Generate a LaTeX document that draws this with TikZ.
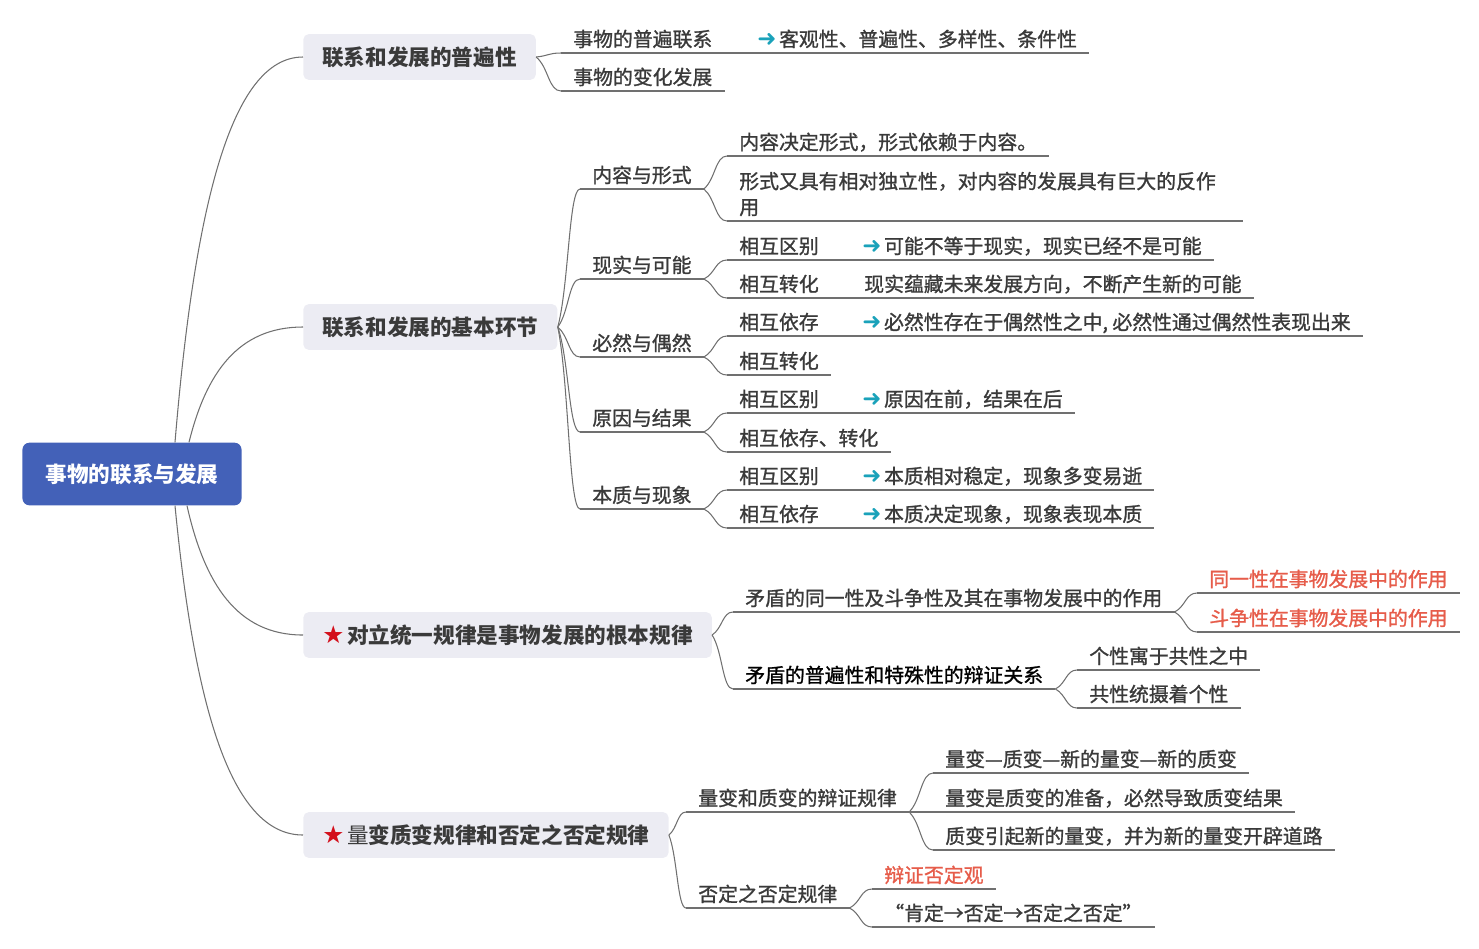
\documentclass[tikz,border=0pt]{standalone}
\usepackage{fontspec}
\setmainfont{Noto Sans CJK SC}
\newfontfamily\leaffont{Noto Sans CJK SC}[FakeBold=1.2]
\newfontfamily\symfont{DejaVu Sans}
\usetikzlibrary{calc}

\definecolor{rootblue}{HTML}{4361B8}
\definecolor{topicgray}{HTML}{ECECF3}
\definecolor{inkgray}{HTML}{3A3A3A}
\definecolor{linegray}{HTML}{707070}
\definecolor{arrowteal}{HTML}{1AA2BA}
\definecolor{starred}{HTML}{D30F1B}
\definecolor{notered}{HTML}{E65C4A}

\newcommand{\goarrow}{{\symfont\fontsize{13}{13}\selectfont\color{arrowteal}➜}\hspace{1.5pt}}
\newcommand{\redstar}{{\symfont\fontsize{14}{14}\selectfont\color{starred}★}\hspace{1.5pt}}

\begin{document}
\begin{tikzpicture}[x=0.02cm,y=-0.02cm]
    \tikzset{
        wire/.style={draw=linegray, line width=0.6pt},
        link/.style={wire, to path={let \p1=(\tikztostart), \p2=(\tikztotarget) in
            .. controls ({0.5*\x1+0.5*\x2},{0.7*\y1+0.3*\y2}) and ({0.5*\x1+0.5*\x2},\y2) .. (\tikztotarget)}},
        trunk/.style={wire, to path={let \p1=(\tikztostart), \p2=(\tikztotarget) in
            .. controls ({0.85*\x1+0.15*\x2},{0.4*\y1+0.6*\y2}) and ({0.57*\x1+0.43*\x2},\y2) .. (\tikztotarget)}},
        root/.style={
            fill=rootblue,
            rounded corners=4pt,
            minimum width=124.7pt,
            minimum height=35.7pt,
            text=white,
            font=\bfseries\fontsize{12.3}{15}\selectfont,
            text height=9.4pt, text depth=0pt
        },
        topic/.style={
            fill=topicgray,
            rounded corners=3pt,
            anchor=west,
            minimum height=26pt,
            inner xsep=10.8pt,
            text=inkgray,
            font=\bfseries\fontsize{12.3}{15}\selectfont,
            text height=9.4pt, text depth=0pt
        },
        leaf/.style={
            anchor=south west,
            inner xsep=6.8pt, inner ysep=0pt,
            text=inkgray,
            font=\leaffont\fontsize{11.3}{14.7}\selectfont,
            text height=9.5pt, text depth=3.5pt
        },
        note/.style={leaf, text=notered}
    }
    \useasboundingbox (0,0) rectangle (1479,948);

    % centre and main topics
    \node[root] (root) at (132,474) {事物的联系与发展};
    \node[topic] (t1) at (303,57) {联系和发展的普遍性};
    \node[topic] (t2) at (303,327) {联系和发展的基本环节};
    \node[topic] (t3) at (303,635) {\redstar 对立统一规律是事物发展的根本规律};
    \node[topic] (t4) at (303,835) {\redstar{\mdseries 量}变质变规律和否定之否定规律};

    \coordinate (rt1) at ($(root.north)+(43,0)$);
    \coordinate (rt2) at ($(root.north)+(57,0)$);
    \coordinate (rb3) at ($(root.south)+(55,0)$);
    \coordinate (rb4) at ($(root.south)+(43,0)$);

    % 普遍性
    \node[leaf] (a1) at (561,53) {事物的普遍联系};
    \node[leaf] (a1x) at (745,53) {\goarrow 客观性、普遍性、多样性、条件性};
    \node[leaf] (a2) at (561,91) {事物的变化发展};

    % 基本环节
    \node[leaf] (b1) at (580,189) {内容与形式};
    \node[leaf] (b11) at (727,156) {内容决定形式，形式依赖于内容。};
    \node[leaf, align=left, text width=279.6pt, text depth=18.2pt] (b12) at (727,221)
        {形式又具有相对独立性，对内容的发展具有巨大的反作\\用};
    \node[leaf] (b2) at (580,279) {现实与可能};
    \node[leaf] (b21) at (727,260) {相互区别};
    \node[leaf] (b21x) at (850,260) {\goarrow 可能不等于现实，现实已经不是可能};
    \node[leaf] (b22) at (727,298) {相互转化};
    \node[leaf] (b22x) at (852,298) {现实蕴藏未来发展方向，不断产生新的可能};
    \node[leaf] (b3) at (580,357) {必然与偶然};
    \node[leaf] (b31) at (727,336) {相互依存};
    \node[leaf] (b31x) at (850,336) {\goarrow 必然性存在于偶然性之中, 必然性通过偶然性表现出来};
    \node[leaf] (b32) at (727,375) {相互转化};
    \node[leaf] (b4) at (580,432) {原因与结果};
    \node[leaf] (b41) at (727,413) {相互区别};
    \node[leaf] (b41x) at (850,413) {\goarrow 原因在前，结果在后};
    \node[leaf] (b42) at (727,452) {相互依存、转化};
    \node[leaf] (b5) at (580,509) {本质与现象};
    \node[leaf] (b51) at (727,490) {相互区别};
    \node[leaf] (b51x) at (850,490) {\goarrow 本质相对稳定，现象多变易逝};
    \node[leaf] (b52) at (727,528) {相互依存};
    \node[leaf] (b52x) at (850,528) {\goarrow 本质决定现象，现象表现本质};

    % 对立统一
    \node[leaf] (c1) at (733,612) {矛盾的同一性及斗争性及其在事物发展中的作用};
    \node[note] (c11) at (1197,593) {同一性在事物发展中的作用};
    \node[note] (c12) at (1197,632) {斗争性在事物发展中的作用};
    \node[leaf, text=black] (c2) at (733,689) {矛盾的普遍性和特殊性的辩证关系};
    \node[leaf] (c21) at (1077,670) {个性寓于共性之中};
    \node[leaf] (c22) at (1077,708) {共性统摄着个性};

    % 量变质变
    \node[leaf] (d1) at (686,812) {量变和质变的辩证规律};
    \node[leaf] (d11) at (933,773) {量变—质变—新的量变—新的质变};
    \node[leaf] (d12) at (933,812) {量变是质变的准备，必然导致质变结果};
    \node[leaf] (d13) at (933,850) {质变引起新的量变，并为新的量变开辟道路};
    \node[leaf] (d2) at (686,908) {否定之否定规律};
    \node[note] (d21) at (872,889) {辩证否定观};
    \node[leaf] (d22) at (872,927) {“肯定→否定→否定之否定”};

    % underlines
    \foreach \n in {a1,a1x,a2,b1,b11,b12,b2,b21,b21x,b22,b22x,b3,b31,b31x,b32,
                    b4,b41,b41x,b42,b5,b51,b51x,b52,b52x,c1,c11,c12,c2,c21,c22,
                    d1,d11,d12,d13,d2,d21,d22}
        \draw[wire] (\n.south west) -- (\n.south east);

    % connectors
    \draw[trunk] (rt1) to (t1.west);
    \draw[trunk] (rt2) to (t2.west);
    \draw[trunk] (rb3) to (t3.west);
    \draw[trunk] (rb4) to (t4.west);
    \foreach \src/\dst in {t1.east/a1, t1.east/a2, a1.south east/a1x,
                           t2.east/b1, t2.east/b2, t2.east/b3, t2.east/b4, t2.east/b5,
                           b1.south east/b11, b1.south east/b12,
                           b2.south east/b21, b2.south east/b22,
                           b21.south east/b21x, b22.south east/b22x,
                           b3.south east/b31, b3.south east/b32, b31.south east/b31x,
                           b4.south east/b41, b4.south east/b42, b41.south east/b41x,
                           b5.south east/b51, b5.south east/b52,
                           b51.south east/b51x, b52.south east/b52x,
                           t3.east/c1, t3.east/c2,
                           c1.south east/c11, c1.south east/c12,
                           c2.south east/c21, c2.south east/c22,
                           t4.east/d1, t4.east/d2,
                           d1.south east/d11, d1.south east/d12, d1.south east/d13,
                           d2.south east/d21, d2.south east/d22}
        \draw[link] (\src) to (\dst.south west);
\end{tikzpicture}
\end{document}
